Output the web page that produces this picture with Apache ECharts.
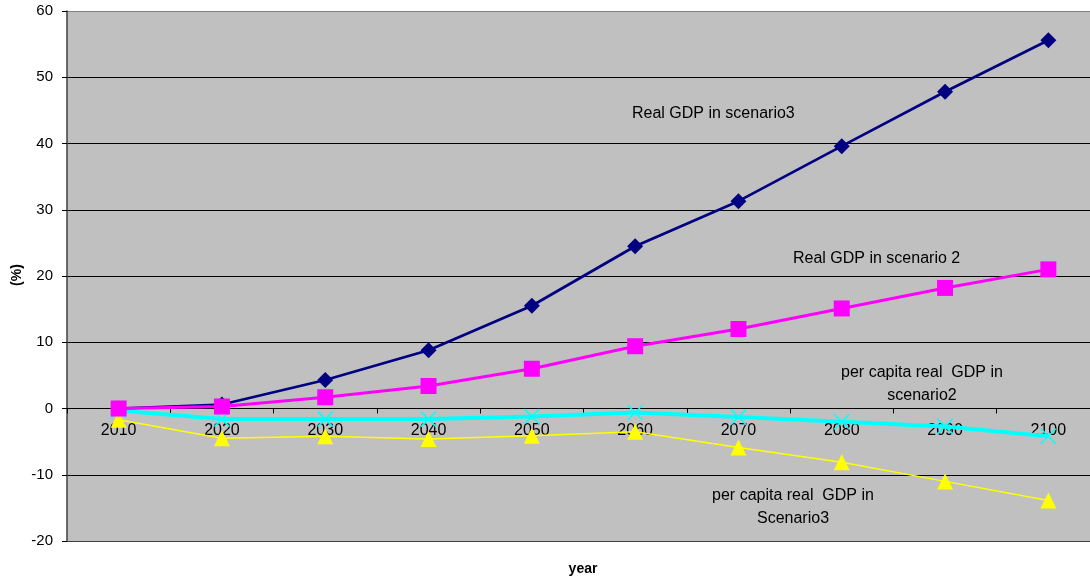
<!DOCTYPE html>
<html>
<head>
<meta charset="utf-8">
<style>
  html, body { margin: 0; padding: 0; background: #ffffff; }
  #chart { width: 1090px; height: 579px; }
</style>
<script src="https://cdn.jsdelivr.net/npm/echarts@6/dist/echarts.min.js"></script>
</head>
<body>
<div id="chart"></div>
<script>
// Years on the category axis
const years = ['2010', '2020', '2030', '2040', '2050', '2060', '2070', '2080', '2090', '2100'];

// Change relative to baseline (%)
const realGdpScenario3 = [0, 0.6, 4.3, 8.8, 15.5, 24.5, 31.3, 39.6, 47.8, 55.6];
const realGdpScenario2 = [0, 0.3, 1.7, 3.4, 6.0, 9.4, 12.0, 15.1, 18.2, 21.0];
const perCapitaScenario2 = [-0.3, -1.6, -1.6, -1.6, -1.2, -0.6, -1.3, -2.0, -2.7, -4.2];
const perCapitaScenario3 = [-1.7, -4.5, -4.2, -4.6, -4.1, -3.5, -5.9, -8.1, -11.0, -13.9];

// Value axis range
const yMin = -20;
const yMax = 60;
const yStep = 10;

const FONT = '"Liberation Sans", Arial, sans-serif';
const crossSymbol = 'path://M0,0 L10,10 M10,0 L0,10';

// Plot rectangle
const gridTop = 11;
const gridHeight = 530;

// The category axis sits on the zero line: shift it up from the bottom edge
const zeroOffset = -((0 - yMin) / (yMax - yMin)) * gridHeight;

const chart = echarts.init(document.getElementById('chart'), null, { renderer: 'canvas' });

const gridLineColors = [];
for (let v = yMin; v <= yMax; v += yStep) {
  gridLineColors.push(v === yMax ? '#808080' : (v === yMin ? '#404040' : '#000000'));
}

chart.setOption({
  animation: false,
  backgroundColor: '#ffffff',
  grid: {
    left: 67, top: gridTop, width: 1033, height: gridHeight,
    outerBoundsMode: 'none',
    show: true,
    backgroundColor: '#C0C0C0',
    borderWidth: 0
  },
  xAxis: {
    type: 'category',
    data: years,
    boundaryGap: true,
    position: 'bottom',
    offset: zeroOffset,
    axisLine: { onZero: false, lineStyle: { color: '#000000', width: 1 } },
    axisTick: { show: true, length: 5, lineStyle: { color: '#000000' } },
    axisLabel: { color: '#000000', fontSize: 16, fontFamily: FONT, margin: 14 },
    splitLine: { show: false }
  },
  yAxis: {
    type: 'value',
    min: yMin, max: yMax, interval: yStep,
    axisLine: { show: true, onZero: false, lineStyle: { color: '#404040', width: 1.5 } },
    axisTick: { show: true, length: 5, lineStyle: { color: '#000000' } },
    axisLabel: { color: '#000000', fontSize: 15, fontFamily: FONT, margin: 14 },
    splitLine: { show: true, lineStyle: { color: gridLineColors, width: 1 } }
  },
  series: [
    {
      name: 'Real GDP in scenario3',
      type: 'line',
      data: realGdpScenario3,
      symbol: 'diamond',
      symbolSize: 16,
      lineStyle: { color: '#000080', width: 2.75 },
      itemStyle: { color: '#000080' },
      z: 4
    },
    {
      name: 'Real GDP in scenario 2',
      type: 'line',
      data: realGdpScenario2,
      symbol: 'rect',
      symbolSize: 16,
      lineStyle: { color: '#FF00FF', width: 3 },
      itemStyle: { color: '#FF00FF' },
      z: 5
    },
    {
      name: 'per capita real GDP in scenario2',
      type: 'line',
      data: perCapitaScenario2,
      symbol: crossSymbol,
      symbolSize: 15,
      lineStyle: { color: '#00FFFF', width: 4 },
      itemStyle: { color: 'none', borderColor: '#00FFFF', borderWidth: 1.5 },
      z: 3
    },
    {
      name: 'per capita real GDP in Scenario3',
      type: 'line',
      data: perCapitaScenario3,
      symbol: 'triangle',
      symbolSize: 16,
      lineStyle: { color: '#FFFF00', width: 1.5 },
      itemStyle: { color: '#FFFF00' },
      z: 2
    }
  ],
  graphic: [
    { type: 'text', left: 632, top: 106, style: { text: 'Real GDP in scenario3', font: '16px ' + FONT, fill: '#000000' } },
    { type: 'text', left: 793, top: 251, style: { text: 'Real GDP in scenario 2', font: '16px ' + FONT, fill: '#000000' } },
    { type: 'text', x: 922, y: 361, style: { text: 'per capita real  GDP in\nscenario2', font: '16px ' + FONT, fill: '#000000', align: 'center', lineHeight: 23 } },
    { type: 'text', x: 793, y: 484, style: { text: 'per capita real  GDP in\nScenario3', font: '16px ' + FONT, fill: '#000000', align: 'center', lineHeight: 23 } },
    { type: 'text', x: 583, y: 562, style: { text: 'year', font: 'bold 14px ' + FONT, fill: '#000000', align: 'center' } },
    { type: 'text', x: 17, y: 275, rotation: Math.PI / 2, style: { text: '(%)', font: 'bold 14px ' + FONT, fill: '#000000', align: 'center', verticalAlign: 'middle' } }
  ]
});
</script>
</body>
</html>
